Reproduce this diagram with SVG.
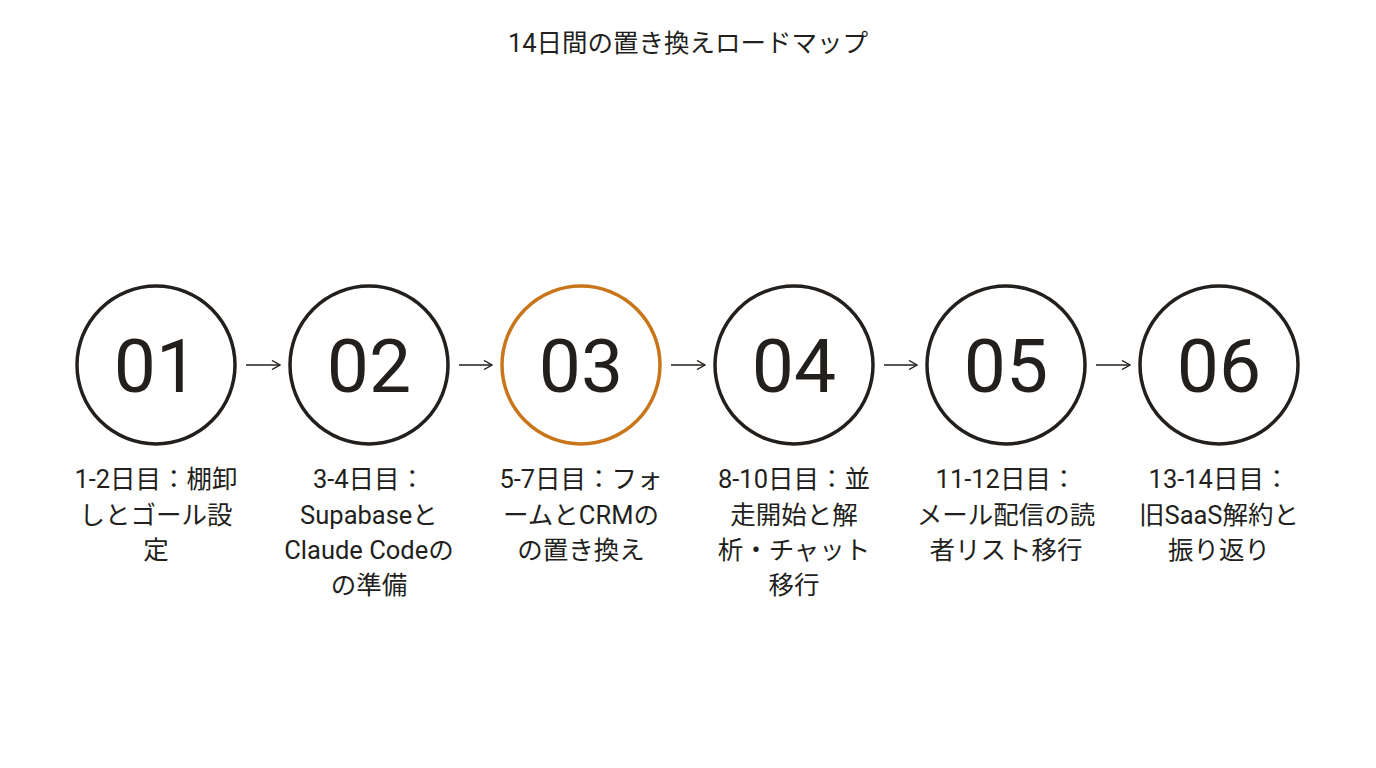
<svg xmlns="http://www.w3.org/2000/svg" width="1376" height="768" viewBox="0 0 1376 768">
<defs>
<style>
text{font-family:Roboto,"Noto Sans CJK JP",sans-serif;fill:#231f1c;text-anchor:middle}
.title{font-size:25.5px}
.num{font-size:75px}
.lbl{font-size:25.5px}
.ring{fill:#fff;stroke:#231f1c;stroke-width:3.5}
.hl{stroke:#c87619}
.conn{stroke:#231f1c;stroke-width:1.5;fill:none}
</style>
<marker id="ah" viewBox="0 0 10 10" refX="9" refY="5" markerWidth="10" markerHeight="10" markerUnits="userSpaceOnUse" orient="auto">
<path d="M1,0.5 L9,5 L1,9.5" fill="none" stroke="#231f1c" stroke-width="1.4"/>
</marker>
</defs>
<rect width="1376" height="768" fill="#fff"/>
<text class="title" x="688" y="52">14日間の置き換えロードマップ</text>
<g id="connectors">
<line class="conn" x1="246" y1="365" x2="280" y2="365" marker-end="url(#ah)"/>
<line class="conn" x1="459" y1="365" x2="492" y2="365" marker-end="url(#ah)"/>
<line class="conn" x1="671" y1="365" x2="705" y2="365" marker-end="url(#ah)"/>
<line class="conn" x1="884" y1="365" x2="917" y2="365" marker-end="url(#ah)"/>
<line class="conn" x1="1096" y1="365" x2="1130" y2="365" marker-end="url(#ah)"/>
</g>
<g id="step1">
<circle class="ring" cx="156" cy="365" r="79"/>
<text class="num" x="156" y="392">01</text>
<text class="lbl" x="156" y="488">1-2日目：棚卸</text>
<text class="lbl" x="156" y="524">しとゴール設</text>
<text class="lbl" x="156" y="559">定</text>
</g>
<g id="step2">
<circle class="ring" cx="369" cy="365" r="79"/>
<text class="num" x="369" y="392">02</text>
<text class="lbl" x="369" y="488">3-4日目：</text>
<text class="lbl" x="369" y="524">Supabaseと</text>
<text class="lbl" x="369" y="559">Claude Codeの</text>
<text class="lbl" x="369" y="594">の準備</text>
</g>
<g id="step3">
<circle class="ring hl" cx="581" cy="365" r="79"/>
<text class="num" x="581" y="392">03</text>
<text class="lbl" x="581" y="488">5-7日目：フォ</text>
<text class="lbl" x="581" y="524">ームとCRMの</text>
<text class="lbl" x="581" y="559">の置き換え</text>
</g>
<g id="step4">
<circle class="ring" cx="794" cy="365" r="79"/>
<text class="num" x="794" y="392">04</text>
<text class="lbl" x="794" y="488">8-10日目：並</text>
<text class="lbl" x="794" y="524">走開始と解</text>
<text class="lbl" x="794" y="559">析・チャット</text>
<text class="lbl" x="794" y="594">移行</text>
</g>
<g id="step5">
<circle class="ring" cx="1006" cy="365" r="79"/>
<text class="num" x="1006" y="392">05</text>
<text class="lbl" x="1006" y="488">11-12日目：</text>
<text class="lbl" x="1006" y="524">メール配信の読</text>
<text class="lbl" x="1006" y="559">者リスト移行</text>
</g>
<g id="step6">
<circle class="ring" cx="1219" cy="365" r="79"/>
<text class="num" x="1219" y="392">06</text>
<text class="lbl" x="1219" y="488">13-14日目：</text>
<text class="lbl" x="1219" y="524">旧SaaS解約と</text>
<text class="lbl" x="1219" y="559">振り返り</text>
</g>
</svg>
